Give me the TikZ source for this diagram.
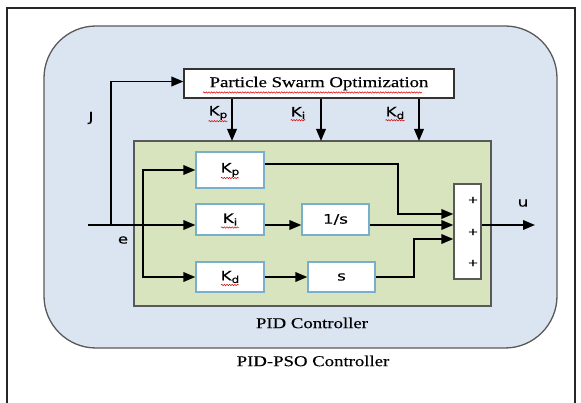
\documentclass[tikz,border=0pt]{standalone}
\usepackage{fontspec}
\setmainfont{Liberation Serif}[FakeStretch=1.25,FakeBold=0.4]
\newfontfamily\labfont{DejaVu Sans}[FakeStretch=1.28,FakeBold=0.3]
\usetikzlibrary{arrows.meta,decorations.pathmorphing}
\definecolor{regionblue}{RGB}{219,229,241}
\definecolor{pidgreen}{RGB}{215,228,189}
\definecolor{boxedge}{RGB}{120,175,205}
\definecolor{darkedge}{RGB}{89,89,89}
\newcommand\kk[1]{K\raisebox{-2.5pt}{\fontsize{9.5}{9.5}\selectfont #1}}
\begin{document}
\begin{tikzpicture}[x=1pt,y=-1pt,
  line/.style={line width=1.9pt,black},
  arr/.style={line, -{Triangle[length=12pt,width=9.5pt]}},
  blockbox/.style={draw=boxedge,line width=1.3pt,fill=white,inner sep=0pt,
     font=\labfont\fontsize{13}{13}\selectfont},
  lab/.style={inner sep=0pt,font=\labfont\fontsize{13}{13}\selectfont},
  plus/.style={inner sep=0pt,font=\labfont\fontsize{10}{10}\selectfont},
  caption/.style={inner sep=0pt,font=\fontsize{15}{15}\selectfont},
  wavy/.style={draw=red!85!black,line width=0.5pt,decorate,
     decoration={snake,amplitude=0.7pt,segment length=2.6pt}}]
\useasboundingbox (0,0) rectangle (581,403);
\fill[white] (0,0) rectangle (581,403);
% outer frame
\draw[line width=1.8pt,black!85] (7,403) -- (7,8) -- (575,8) -- (575,403);
% PID-PSO region
\node[draw=darkedge,line width=1.3pt,fill=regionblue,rounded corners=52pt,
  minimum width=513pt,minimum height=322pt] (region) at (300.5,187) {};
% PID box
\node[draw=darkedge,line width=1.3pt,fill=pidgreen,
  minimum width=357pt,minimum height=165pt] (pid) at (312.5,223.5) {};
% PSO box
\node[draw=black!80,line width=1.1pt,fill=white,inner sep=0pt,
  minimum width=270pt,minimum height=29pt,font=\fontsize{15}{15}\selectfont]
  (pso) at (319,83.5) {Particle Swarm Optimization};
\node[inner sep=0pt,font=\fontsize{15}{15}\selectfont] (psotext) at (312.5,83.5) {\phantom{Particle Swarm Optimization}};
\draw[wavy] ([yshift=-2pt]psotext.south west) -- ([yshift=-2pt]psotext.south east);
% blocks
\node[blockbox,minimum width=68pt,minimum height=36pt] (kp) at (230,170) {\kk{p}};
\node[blockbox,minimum width=68pt,minimum height=31pt] (ki) at (230,219.5) {\kk{i}};
\node[blockbox,minimum width=67pt,minimum height=31pt] (integ) at (335.5,219.5) {1/s};
\node[blockbox,minimum width=68pt,minimum height=30pt] (kd) at (230,277) {\kk{d}};
\node[blockbox,minimum width=67pt,minimum height=30pt] (deriv) at (341.5,277) {s};
\node[draw=darkedge,line width=1.3pt,fill=white,minimum width=27pt,minimum height=95pt]
  (sum) at (467.5,231.5) {};
\node[plus] (p1) at (473,200) {+};
\node[plus] (p2) at (473,232) {+};
\node[plus] (p3) at (473,263) {+};
% coordinates
\coordinate (in) at (88,225);
\coordinate (jb) at (111,225);
\coordinate (br) at (143,225);
\coordinate (out) at (535,225);
\coordinate (c1) at (398,214);
\coordinate (c2) at (414,239);
\coordinate (a1) at (232,141);
\coordinate (a2) at (321,141);
\coordinate (a3) at (419,141);
% connectors
\draw[arr] (in) -- (ki.west |- in);
\draw[arr] (jb) |- ([yshift=2pt]pso.west);
\draw[arr] (br) |- (kp.west);
\draw[arr] (br) |- (kd.west);
\draw[arr] (ki.east |- in) -- (integ.west |- in);
\draw[arr] (kd.east) -- (deriv.west);
\draw[arr] ([yshift=6pt]kp.east) -| (c1) -- (sum.west |- c1);
\draw[arr] (integ.east |- in) -- (sum.west |- in);
\draw[arr] (deriv.east) -| (c2) -- (sum.west |- c2);
\draw[arr] (sum.east |- in) -- (out);
\draw[arr] (pso.south -| a1) -- (a1);
\draw[arr] (pso.south -| a2) -- (a2);
\draw[arr] (pso.south -| a3) -- (a3);
% labels
\node[lab] (lj) at (91,118) {J};
\node[lab] (le) at (123,240) {e};
\node[lab] (lu) at (523,203) {u};
\node[lab] (lkp) at (218,113) {\kk{p}};
\node[lab] (lki) at (298,113) {\kk{i}};
\node[lab] (lkd) at (395,113) {\kk{d}};
% spell-check underlines
\foreach \n in {lkp,lki,lkd}{
  \draw[wavy] ([yshift=-1pt]\n.south west) -- ([yshift=-1pt]\n.south east);}
\foreach \n in {kp,ki,kd}{
  \draw[wavy] ([xshift=-9pt,yshift=-8pt]\n.center) -- ([xshift=9pt,yshift=-8pt]\n.center);}
% captions
\node[caption] (cap1) at (312,323) {PID Controller};
\node[caption] (cap2) at (313,361) {PID-PSO Controller};
\end{tikzpicture}
\end{document}
